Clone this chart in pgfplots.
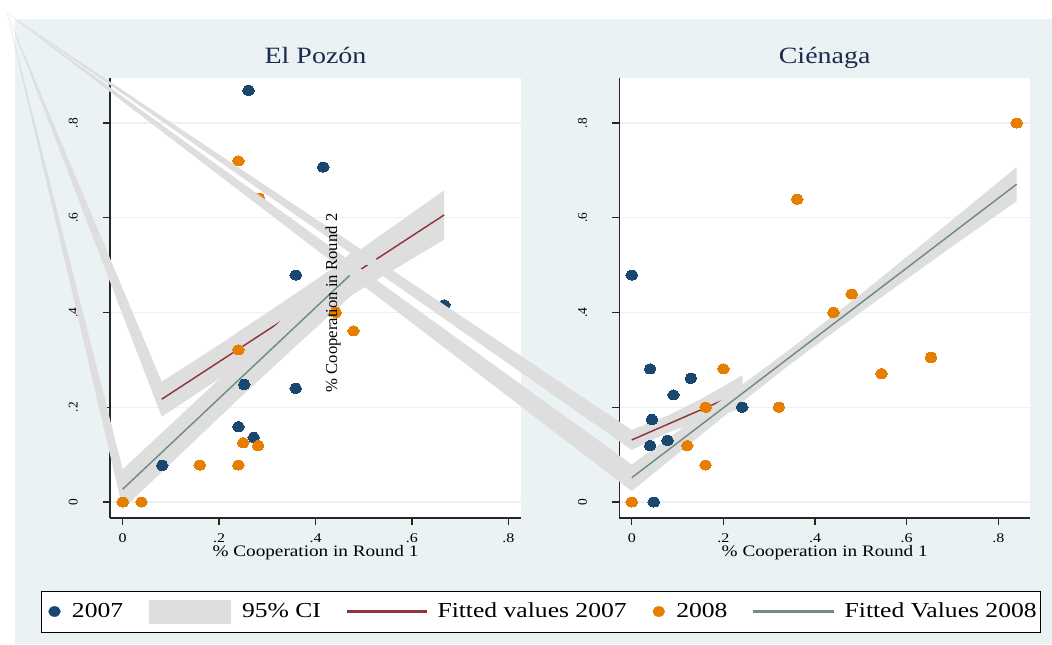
\documentclass[border=0pt]{standalone}
\usepackage{fontspec}
\setmainfont{Liberation Serif}[FakeStretch=1.2]
\newfontfamily\plainserif{Liberation Serif}
\usepackage{pgfplots}
\pgfplotsset{compat=1.18}
\definecolor{bgc}{HTML}{EAF2F3}
\definecolor{navyc}{HTML}{1A476F}
\definecolor{orangec}{HTML}{E67E00}
\definecolor{maroonc}{HTML}{90353B}
\definecolor{tealc}{HTML}{6E8E84}
\definecolor{cigray}{HTML}{DEDEDE}
\definecolor{titlec}{HTML}{1C2B4E}
\pgfplotsset{
  stata/.style={
    anchor=south west, scale only axis, height=330pt,
    ymin=-0.0338, ymax=0.895,
    axis x line*=bottom, axis y line*=left,
    axis line style={-, line width=0.9pt, color=black!85},
    axis background/.style={fill=white},
    clip=false,
    xtick={0,0.2,0.4,0.6,0.8}, xticklabels={0,.2,.4,.6,.8},
    ytick={0,0.2,0.4,0.6,0.8}, yticklabels={0,.2,.4,.6,.8},
    tick align=outside, major tick length=5.5pt,
    tick style={line width=0.9pt, color=black!85},
    ymajorgrids, grid style={bgc, line width=1.1pt},
    xticklabel style={anchor=north, inner sep=0pt, font=\fontsize{10}{12}\selectfont},
    xticklabel shift=6pt,
    yticklabel style={rotate=90, anchor=south, inner sep=0pt, font=\plainserif\fontsize{10}{12}\selectfont},
    yticklabel shift=18.5pt,
    title style={at={(axis description cs:0.5,1)}, anchor=base, yshift=4.7pt, font=\fontsize{17.5}{20}\selectfont, text=titlec},
    xlabel style={at={(axis description cs:0.5,0)}, anchor=base, yshift=-29pt, font=\fontsize{12}{14}\selectfont},
    xlabel={\% Cooperation in Round 1},
  },
  dot/.style={only marks, color=#1, mark=*, mark size=3.75pt, mark options={xscale=1.17, draw=#1, fill=#1, line width=0pt}},
  ci/.style={fill=cigray, draw=none, forget plot},
  fitl/.style={line width=1.1pt, color=#1, forget plot},
}
\begin{document}
\begin{tikzpicture}
\useasboundingbox (0,0) rectangle (789pt,-483pt);
\begin{scope}[x=0.75pt,y=-0.75pt]
\fill[bgc] (15,19) rectangle (1052,644);
\draw[black, line width=0.7pt, fill=white] (41,591) rectangle (1040,632);
\end{scope}
% ---------------- El Pozon ----------------
\begin{axis}[stata, at={(82.5pt,-388.5pt)}, width=308.25pt,
  xmin=-0.0263, xmax=0.8263, title={El Pozón}]
\addplot[dot=navyc, forget plot] coordinates {
(0.261,0.869) (0.416,0.707) (0.359,0.479) (0.667,0.416) (0.359,0.240)
(0.240,0.159) (0.272,0.136) (0.252,0.248) (0.082,0.077)};
\addplot[ci] coordinates {
(-0.2400,1.0322) (0.081,0.254) (0.2,0.332) (0.35,0.434) (0.5,0.538) (0.667,0.658)
(0.667,0.554) (0.5,0.452) (0.35,0.358) (0.2,0.260) (0.081,0.180)};
\addplot[fitl=maroonc] coordinates {(0.081,0.217) (0.667,0.606)};
\addplot[dot=orangec, forget plot] coordinates {
(0.240,0.720) (0.283,0.641) (0.240,0.321) (0.442,0.400) (0.479,0.361)
(0.250,0.125) (0.281,0.119) (0.160,0.078) (0.240,0.078) (0.039,0) (0,0)};
\addplot[ci] coordinates {
(-0.2400,1.0322) (0,0.069) (0.12,0.183) (0.24,0.297) (0.36,0.414) (0.48,0.533)
(0.48,0.441) (0.36,0.330) (0.24,0.217) (0.12,0.101) (0,-0.015)};
\addplot[fitl=tealc] coordinates {(0,0.027) (0.48,0.487)};
\end{axis}
% ---------------- Cienaga ----------------
\begin{axis}[stata, at={(464.5pt,-388.5pt)}, width=308pt,
  xmin=-0.0271, xmax=0.869, title={Ciénaga},
  legend style={at={(-0.1838,-0.2125)}, anchor=center, draw=none, fill=none,
    legend columns=-1, font=\fontsize{16}{18}\selectfont,
    /tikz/every even column/.append style={column sep=17.5pt},
    /tikz/every odd column/.append style={column sep=6.5pt}}]
\addplot[dot=navyc, forget plot] coordinates {
(0,0.479) (0.040,0.281) (0.129,0.261) (0.091,0.226) (0.044,0.174)
(0.040,0.119) (0.241,0.200) (0.078,0.130) (0.048,0)};
\addplot[ci] coordinates {
(-1.3632,1.0322) (0,0.152) (0.08,0.183) (0.16,0.222) (0.242,0.268)
(0.242,0.198) (0.16,0.174) (0.08,0.147) (0,0.110)};
\addplot[fitl=maroonc] coordinates {(0,0.131) (0.242,0.233)};
\addplot[dot=orangec, forget plot] coordinates {
(0.840,0.800) (0.361,0.639) (0.480,0.439) (0.440,0.400) (0.653,0.305)
(0.545,0.271) (0.200,0.281) (0.161,0.200) (0.321,0.200) (0.121,0.119)
(0.161,0.078) (0,0)};
\addplot[ci] coordinates {
(-1.3632,1.0322) (0,0.079) (0.2,0.218) (0.35,0.326) (0.5,0.439) (0.7,0.596) (0.84,0.707)
(0.84,0.635) (0.7,0.540) (0.5,0.401) (0.35,0.294) (0.2,0.180) (0,0.023)};
\addplot[fitl=tealc] coordinates {(0,0.0513) (0.84,0.671)};
\addlegendimage{legend image code/.code={\fill[navyc] (0pt,0pt) ellipse (4.4pt and 3.75pt);}}
\addlegendentry{2007}
\addlegendimage{legend image code/.code={\fill[cigray] (0pt,-8.6pt) rectangle (60.75pt,8.6pt);}}
\addlegendentry{95\% CI}
\addlegendimage{legend image code/.code={\fill[maroonc] (0pt,-0.85pt) rectangle (59pt,0.85pt);}}
\addlegendentry{Fitted values 2007}
\addlegendimage{legend image code/.code={\fill[orangec] (0pt,0pt) ellipse (4.4pt and 3.75pt);}}
\addlegendentry{2008}
\addlegendimage{legend image code/.code={\fill[tealc] (0pt,-0.85pt) rectangle (59.5pt,0.85pt);}}
\addlegendentry{Fitted Values 2008}
\end{axis}
\node[rotate=90, font=\plainserif\fontsize{12.5}{15}\selectfont, inner sep=0pt] at (249.75pt,-227.25pt) {\% Cooperation in Round 2};
\end{tikzpicture}
\end{document}
